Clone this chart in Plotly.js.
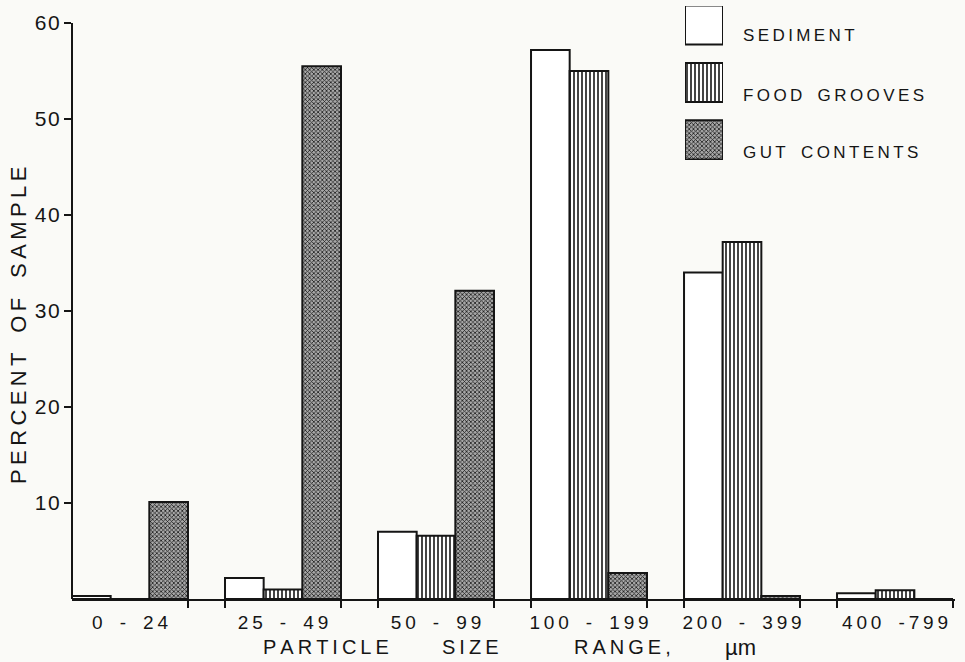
<!DOCTYPE html>
<html>
<head>
<meta charset="utf-8">
<script src="https://cdn.plot.ly/plotly-3.0.1.min.js"></script>
<style>html,body{margin:0;padding:0;background:#fafaf7;}#chart{width:965px;height:662px;}</style>
</head>
<body>
<div id="chart"></div>
<script>
// ---- data ----
const categories = ["0 - 24", "25 - 49", "50 - 99", "100 - 199", "200 - 399", "400 -799"];
const sediment = [0.3, 2.2, 7.0, 57.2, 34.0, 0.6];
const foodGrooves = [0, 1.0, 6.6, 55.0, 37.2, 0.9];
const gutContents = [10.1, 55.5, 32.1, 2.7, 0.3, 0];
const seriesNames = ["SEDIMENT", "FOOD GROOVES", "GUT CONTENTS"];
const yTickVals = [10, 20, 30, 40, 50, 60];
const yTitle = "PERCENT OF SAMPLE";
const xTitleWords = ["PARTICLE", "SIZE", "RANGE,", "\u00B5m"];

// ---- helpers ----
const spaced = s => s.split('').map(c => c === ' ' ? '\u2002' : c).join('\u2009');
const spacedTight = s => s.split('').map(c => c === ' ' ? '\u2002' : c).join('\u200A');
const ink = '#151515';
const bg = '#fafaf7';
const font = {family: 'Liberation Sans, Arial, Helvetica, sans-serif', color: ink};
const bargap = 0.242;
const xs = categories.map((c, i) => i);
const hw = (1 - bargap) / 2;
const edges = [];
xs.forEach((x, i) => { if (i > 0) edges.push(x - hw); edges.push(x + hw); });

const patterns = [
  {shape: '', bgcolor: '#ffffff'},
  {shape: '|', fgcolor: ink, bgcolor: '#ffffff', size: 4, solidity: 0.4, fillmode: 'replace'},
  {shape: 'x', fgcolor: '#1a1a1a', bgcolor: '#a8a8a8', size: 3, solidity: 0.45, fillmode: 'replace'}
];
const lineStyle = {color: ink, width: 2};
const values = [sediment, foodGrooves, gutContents];

const traces = values.map((v, k) => ({
  type: 'bar', x: xs, y: v, name: seriesNames[k], showlegend: false,
  marker: {color: '#ffffff', line: lineStyle, pattern: patterns[k]},
  hoverinfo: 'x+y'
}));

// legend boxes drawn as a small subplot
traces.push({
  type: 'bar', orientation: 'h', x: [1, 1, 1], y: [0, 1, 2], width: 0.68,
  xaxis: 'x2', yaxis: 'y2', showlegend: false, hoverinfo: 'skip',
  marker: {
    color: '#ffffff', line: lineStyle,
    pattern: {
      shape: patterns.map(p => p.shape),
      fgcolor: [ink, ink, '#1a1a1a'],
      bgcolor: patterns.map(p => p.bgcolor),
      size: [4, 4, 3],
      solidity: [0.4, 0.4, 0.45],
      fillmode: 'replace'
    }
  }
});

const L = 72, R = 10, T = 6, B = 63, W = 965, H = 662;
const pw = W - L - R, ph = H - T - B;
const py = p => (H - B - p) / ph;   // pixel y -> paper
const px = p => (p - L) / pw;       // pixel x -> paper
const yTop = 60 * ph / (ph - 17);

const annotations = [];
const wordX = [326, 470, 622, 740];
xTitleWords.forEach((w, i) => annotations.push({
  text: i === 3 ? w : spaced(w), xref: 'paper', yref: 'paper', x: px(wordX[i]), y: py(647),
  xanchor: 'center', yanchor: 'middle', showarrow: false, font: Object.assign({}, font, {size: i === 3 ? 22 : 20})
}));
const legY = [35, 95, 152];
seriesNames.forEach((n, i) => annotations.push({
  text: spaced(n), xref: 'paper', yref: 'paper', x: px(741), y: py(legY[i]),
  xanchor: 'left', yanchor: 'middle', showarrow: false, font: Object.assign({}, font, {size: 17})
}));
annotations.push({
  text: spaced(yTitle), xref: 'paper', yref: 'paper', x: px(18), y: py(326),
  xanchor: 'center', yanchor: 'middle', textangle: -90, showarrow: false,
  font: Object.assign({}, font, {size: 22})
});

const layout = {
  width: W, height: H,
  margin: {l: L, r: R, t: T, b: B},
  paper_bgcolor: bg, plot_bgcolor: bg,
  barmode: 'group', bargap: bargap, bargroupgap: 0,
  font: font,
  showlegend: false,
  xaxis: {
    range: [-hw, 5.392], tickmode: 'array', tickvals: xs, ticktext: categories.map(spaced),
    ticks: '', showgrid: false, zeroline: false, showline: true, linecolor: ink, linewidth: 2,
    tickfont: Object.assign({}, font, {size: 19}), ticklabelstandoff: 5,
    minor: {tickmode: 'array', tickvals: edges, ticks: 'outside', ticklen: 7, tickwidth: 2, tickcolor: ink, showgrid: false},
    fixedrange: true
  },
  yaxis: {
    range: [0, yTop], tickmode: 'array', tickvals: yTickVals, ticktext: yTickVals.map(v => spacedTight(String(v))),
    ticks: 'outside', ticklen: 7, tickwidth: 2, tickcolor: ink,
    showgrid: false, zeroline: false, showline: false,
    tickfont: Object.assign({}, font, {size: 21}), fixedrange: true
  },
  xaxis2: {domain: [px(685), px(723)], range: [0, 1], anchor: 'y2', visible: false, fixedrange: true},
  yaxis2: {domain: [py(160), 1], range: [2.35, -0.33], anchor: 'x2', visible: false, fixedrange: true},
  shapes: [{type: 'line', xref: 'paper', yref: 'y', x0: 0, x1: 0, y0: 0, y1: 60, line: {color: ink, width: 2}}],
  annotations: annotations
};

Plotly.newPlot('chart', traces, layout, {displayModeBar: false, staticPlot: true});
</script>
</body>
</html>
